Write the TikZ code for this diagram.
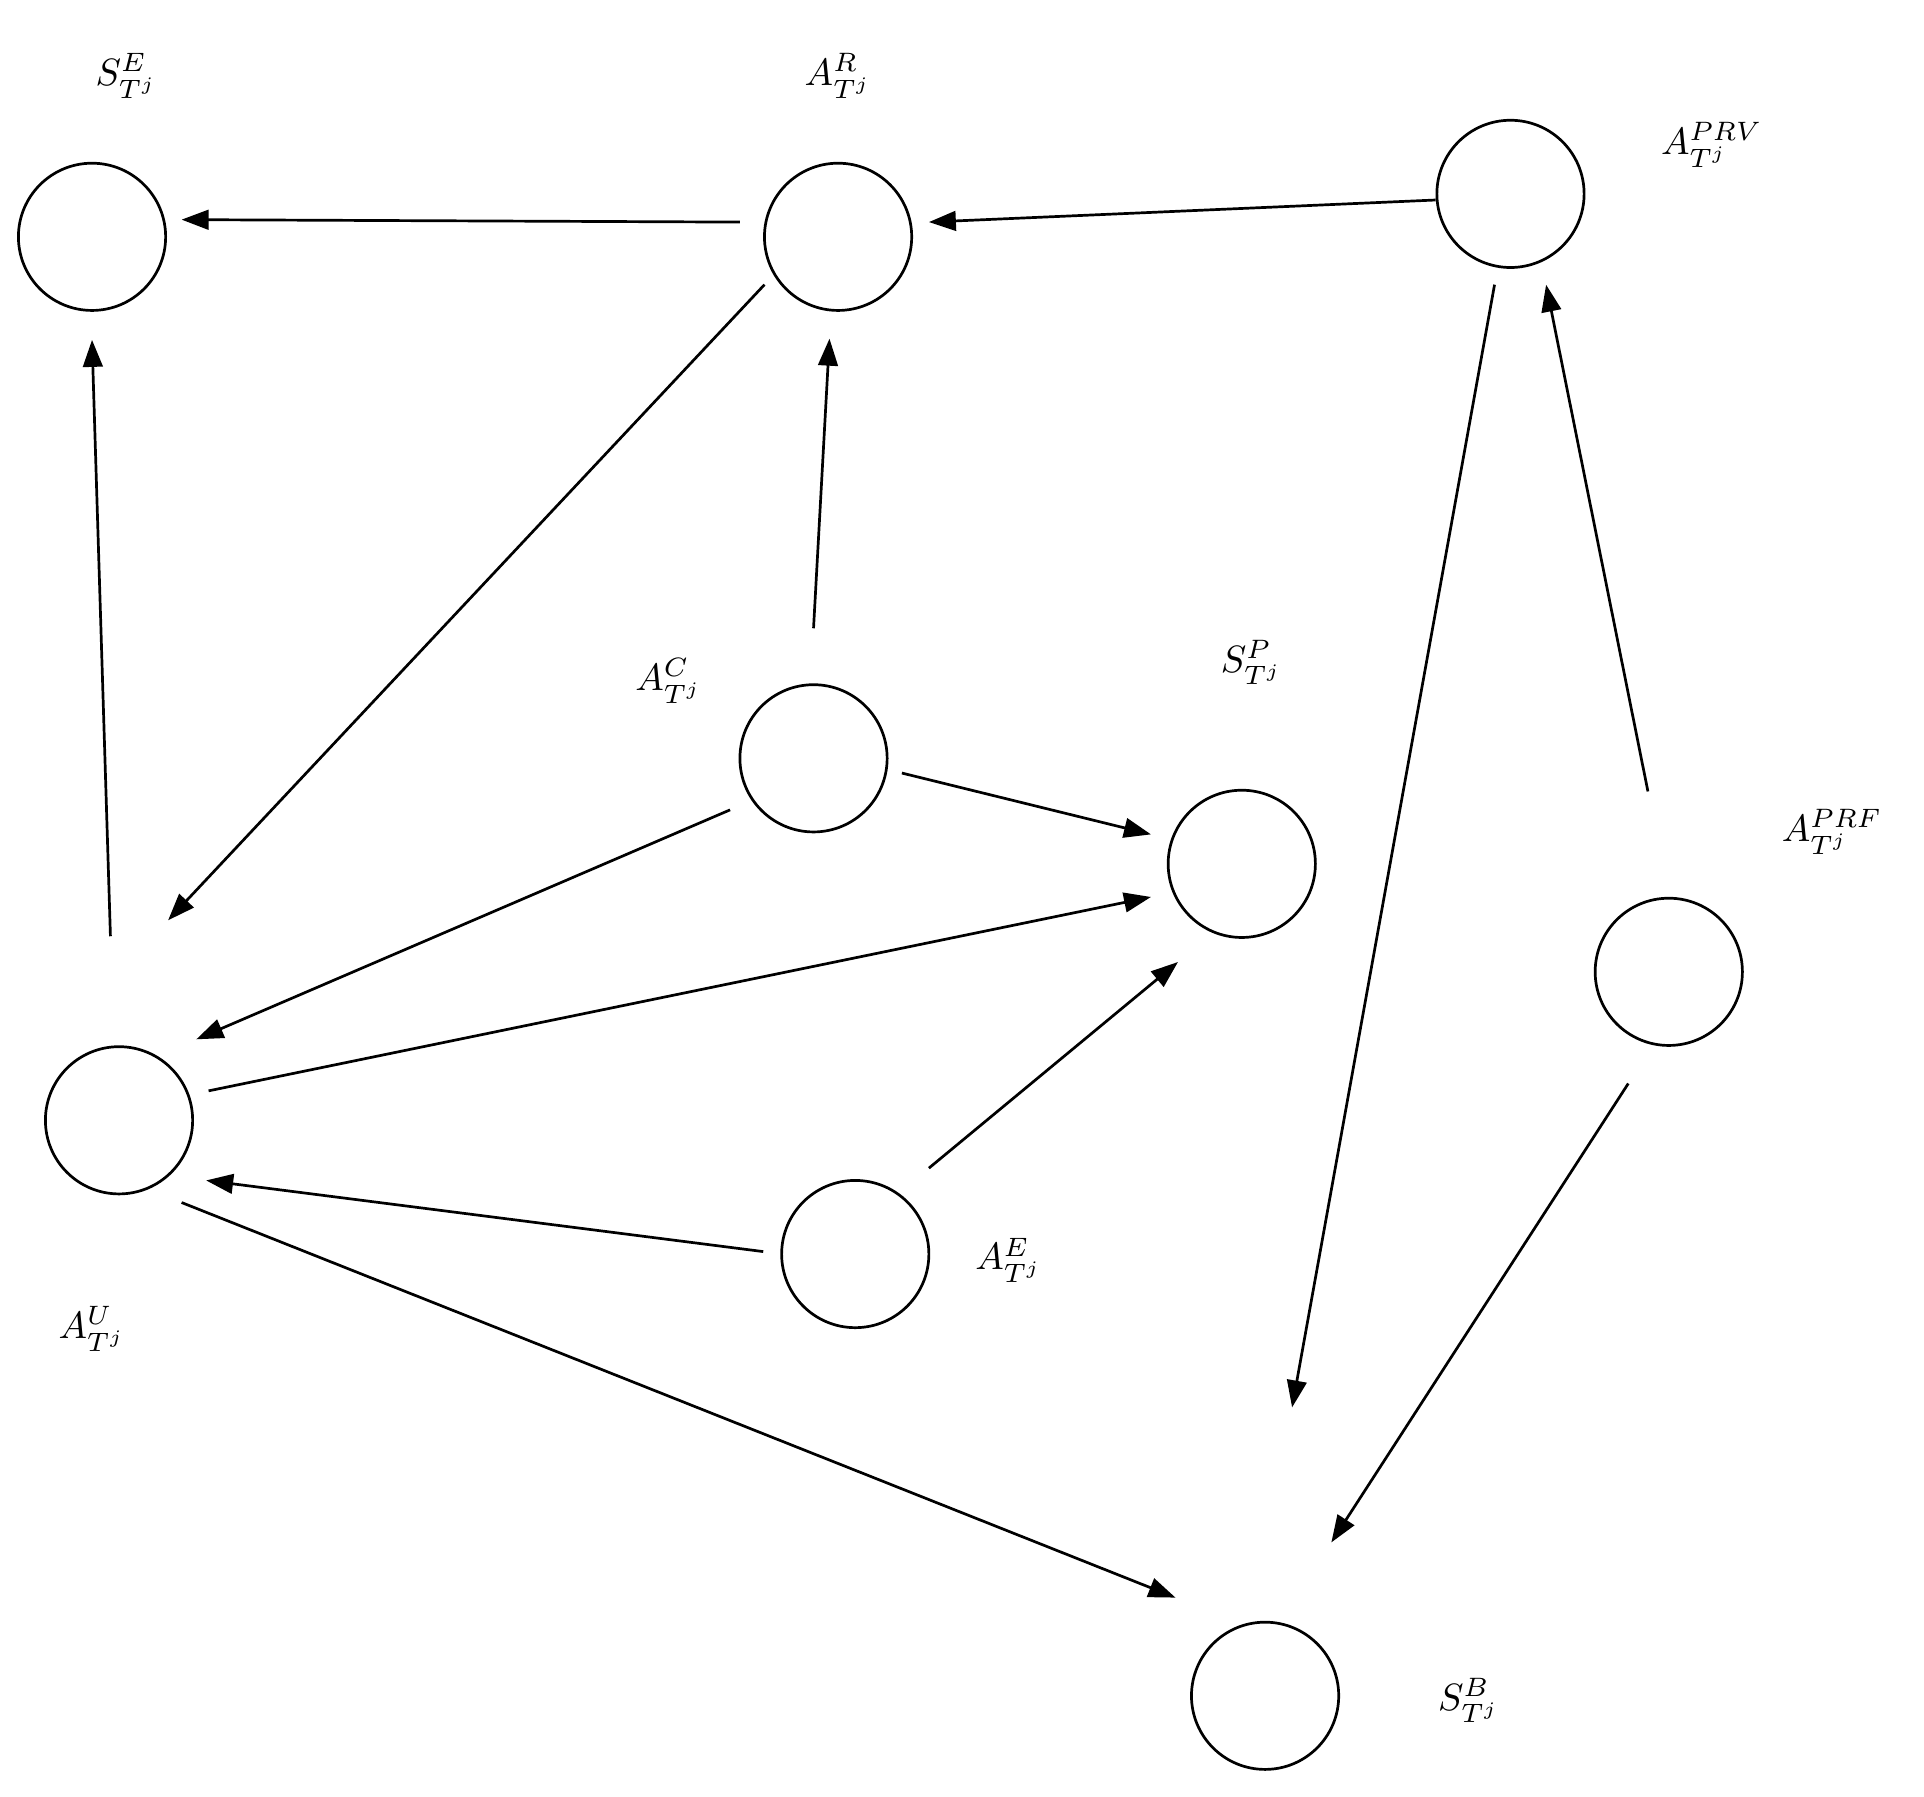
\documentclass[tikz,border=0pt]{standalone}
\usepackage{graphicx}
\usetikzlibrary{arrows.meta}
\begin{document}
\begin{tikzpicture}[x=1pt,y=-1pt,
  st/.style={circle,draw,line width=2.2pt,minimum size=120pt,inner sep=0pt},
  lb/.style={inner sep=0pt},
  ar/.style={line width=2.2pt,-{Triangle[length=22pt,width=16pt]}}]
\useasboundingbox (0,0) rectangle (1568,1464);
\node[st] (SE) at (75,193) {};
\node[st] (AR) at (683,193) {};
\node[st] (APRV) at (1231,158) {};
\node[st] (AC) at (663,618) {};
\node[st] (SP) at (1012,704) {};
\node[st] (APRF) at (1360,792) {};
\node[st] (AU) at (97,913) {};
\node[st] (AE) at (697,1022) {};
\node[st] (SB) at (1031,1382) {};
\node[lb] (lSE) at (103,62) {\scalebox{3.1}{$S^{E}_{T^j}$}};
\node[lb] (lAR) at (683,62) {\scalebox{3.1}{$A^{R}_{T^j}$}};
\node[lb] (lAPRV) at (1395,118) {\scalebox{3.1}{$A^{PRV}_{T^j}$}};
\node[lb] (lAC) at (545,555) {\scalebox{3.1}{$A^{C}_{T^j}$}};
\node[lb] (lSP) at (1020,540) {\scalebox{3.1}{$S^{P}_{T^j}$}};
\node[lb] (lAPRF) at (1493,678) {\scalebox{3.1}{$A^{PRF}_{T^j}$}};
\node[lb] (lAU) at (75,1083) {\scalebox{3.1}{$A^{U}_{T^j}$}};
\node[lb] (lAE) at (822,1027) {\scalebox{3.1}{$A^{E}_{T^j}$}};
\node[lb] (lSB) at (1197,1386) {\scalebox{3.1}{$S^{B}_{T^j}$}};
\coordinate (a1) at (603,181); \coordinate (b1) at (148,179);
\coordinate (a2) at (1170,163); \coordinate (b2) at (757,181);
\coordinate (a3) at (623,232); \coordinate (b3) at (137,750);
\coordinate (a4) at (663,512); \coordinate (b4) at (676,276);
\coordinate (a5) at (90,763); \coordinate (b5) at (75,277);
\coordinate (a6) at (735,630); \coordinate (b6) at (938,680);
\coordinate (a7) at (595,660); \coordinate (b7) at (160,847);
\coordinate (a8) at (170,889); \coordinate (b8) at (938,731);
\coordinate (a9) at (757,952); \coordinate (b9) at (960,784);
\coordinate (a10) at (622,1020); \coordinate (b10) at (168,962);
\coordinate (a11) at (148,980); \coordinate (b11) at (958,1302);
\coordinate (a12) at (1218,232); \coordinate (b12) at (1053,1147);
\coordinate (a13) at (1343,645); \coordinate (b13) at (1260,232);
\coordinate (a14) at (1327,883); \coordinate (b14) at (1085,1257);
\foreach \i in {1,...,14} {\draw[ar] (a\i) -- (b\i);}
\end{tikzpicture}
\end{document}
